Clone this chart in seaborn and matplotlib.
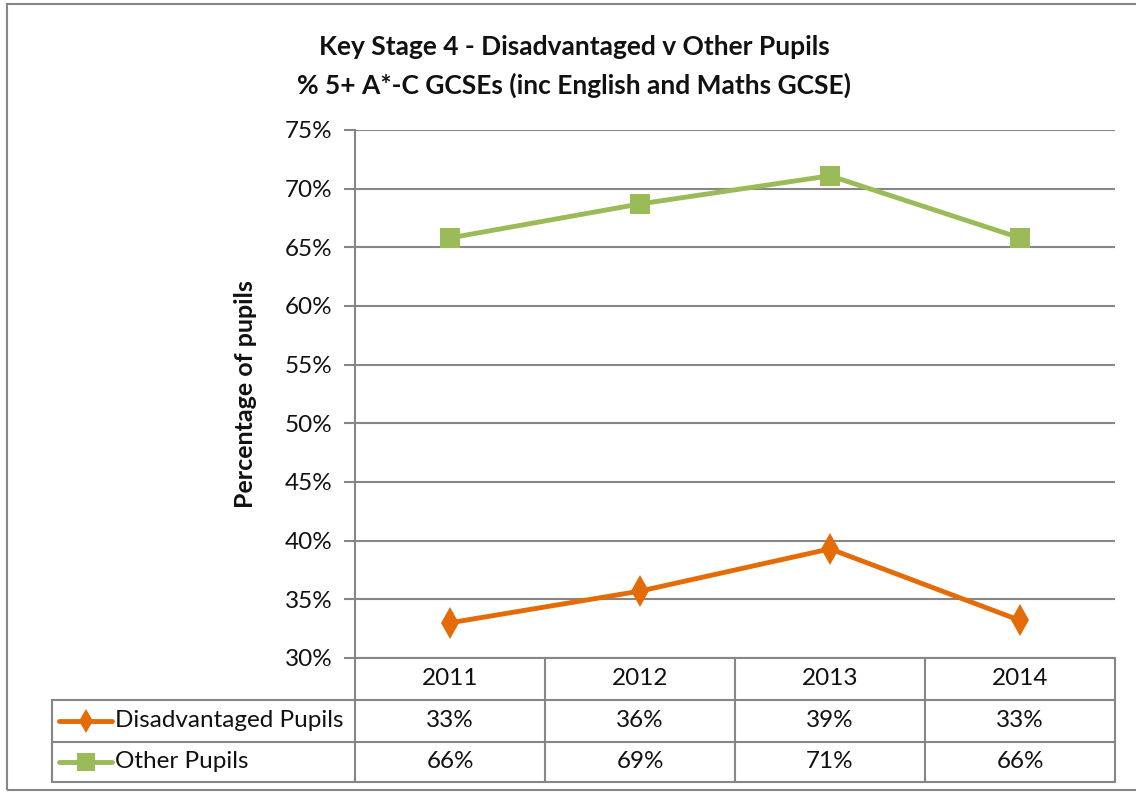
import matplotlib
matplotlib.use("Agg")
import matplotlib.pyplot as plt
import seaborn as sns
import pandas as pd
from matplotlib.patches import Rectangle
from matplotlib.lines import Line2D
from matplotlib.ticker import FuncFormatter, MultipleLocator

years = ["2011", "2012", "2013", "2014"]
disadvantaged = [33.0, 35.7, 39.3, 33.2]
other = [65.8, 68.7, 71.1, 65.8]
series_names = ["Disadvantaged Pupils", "Other Pupils"]
title_lines = ["Key Stage 4 - Disadvantaged v Other Pupils",
               "% 5+ A*-C GCSEs (inc English and Maths GCSE)"]
y_label = "Percentage of pupils"

sns.set_theme(style="white")
plt.rcParams['font.family'] = ['Lato', 'DejaVu Sans']

W, H = 1136, 793
fig = plt.figure(figsize=(W / 100, H / 100), dpi=100)

def fx(px):
    return px / W

def fy(py):
    return 1 - py / H

grid_c = "#868686"
orange = "#E36C09"
green = "#9BBB59"
txt_c = "#111111"
fs = 17.5

# frame
fig.patches.append(Rectangle((fx(7), fy(790)), fx(1140) - fx(7), fy(4) - fy(790),
                             transform=fig.transFigure, fill=False,
                             edgecolor=grid_c, linewidth=1.5))

ax = fig.add_axes([fx(355), fy(658), fx(1115) - fx(355), fy(130) - fy(658)])

df = pd.DataFrame({
    "Year": years * 2,
    "Value": disadvantaged + other,
    "Series": [series_names[0]] * 4 + [series_names[1]] * 4,
})
df["x"] = list(range(4)) * 2

sns.lineplot(data=df, x="x", y="Value", hue="Series", style="Series",
             palette={series_names[0]: orange, series_names[1]: green},
             markers={series_names[0]: "d", series_names[1]: "s"},
             dashes=False, linewidth=3.5, markersize=14.5, markeredgewidth=0,
             legend=False, ax=ax, zorder=3)
for ln in ax.lines:
    if ln.get_marker() == "d":
        ln.set_markersize(16)

ax.set_xlim(-0.5, 3.5)
ax.set_ylim(30, 75)
ax.yaxis.set_major_locator(MultipleLocator(5))
ax.yaxis.set_major_formatter(FuncFormatter(lambda v, p: f"{v:.0f}%"))
ax.set_xticks([])
ax.set_xlabel("")
ax.set_ylabel(y_label, fontsize=18, fontweight="bold", labelpad=20, color=txt_c)
ax.grid(axis="y", color=grid_c, linewidth=1.5)
ax.set_axisbelow(True)
for s in ["top", "right", "bottom"]:
    ax.spines[s].set_visible(False)
ax.spines["left"].set_color(grid_c)
ax.spines["left"].set_linewidth(1.5)
ax.tick_params(axis="y", which="major", left=True, length=8, width=1.5,
               color=grid_c, labelsize=fs, pad=8, labelcolor=txt_c)

fig.text(fx(574), fy(47), title_lines[0], ha="center", va="center",
         fontsize=19, fontweight="bold", color=txt_c)
fig.text(fx(574), fy(85), title_lines[1], ha="center", va="center",
         fontsize=19, fontweight="bold", color=txt_c)

# data table (x in category units, y in pixel rows)
row_edges = [658, 700, 742, 782]
tax = fig.add_axes([fx(52), fy(782), fx(1115) - fx(52), fy(658) - fy(782)])
left_x = -0.5 - 303 / 190
tax.set_xlim(left_x, 3.5)
tax.set_ylim(782, 658)
tax.axis("off")
lk = dict(color=grid_c, linewidth=1.5, clip_on=False)
tax.plot([-0.5, 3.5], [row_edges[0]] * 2, **lk)
for yy in row_edges[1:]:
    tax.plot([left_x, 3.5], [yy, yy], **lk)
for xx in [-0.5, 0.5, 1.5, 2.5, 3.5]:
    tax.plot([xx, xx], [row_edges[0], row_edges[-1]], **lk)
tax.plot([left_x, left_x], [row_edges[1], row_edges[-1]], **lk)

centers = [(row_edges[k] + row_edges[k + 1]) / 2 for k in range(3)]
for i, yr in enumerate(years):
    tax.text(i, centers[0], yr, ha="center", va="center", fontsize=fs, color=txt_c)
for r, (vals, name, col, mk, ms) in enumerate(
        [(disadvantaged, series_names[0], orange, "d", 12),
         (other, series_names[1], green, "s", 12.5)]):
    yrow = centers[r + 1]
    for i, v in enumerate(vals):
        tax.text(i, yrow, f"{v:.0f}%", ha="center", va="center",
                 fontsize=fs, color=txt_c)
    k0 = left_x + 7 / 190
    k1 = left_x + 60 / 190
    tax.add_line(Line2D([k0, k1], [yrow, yrow], color=col, linewidth=3.5,
                        solid_capstyle="round", clip_on=False))
    tax.add_line(Line2D([(k0 + k1) / 2], [yrow], color=col, marker=mk,
                        markersize=ms, markeredgewidth=0, clip_on=False))
    tax.text(left_x + 63 / 190, yrow, name, ha="left", va="center",
             fontsize=fs, color=txt_c)

fig.savefig("out.png", dpi=100)
